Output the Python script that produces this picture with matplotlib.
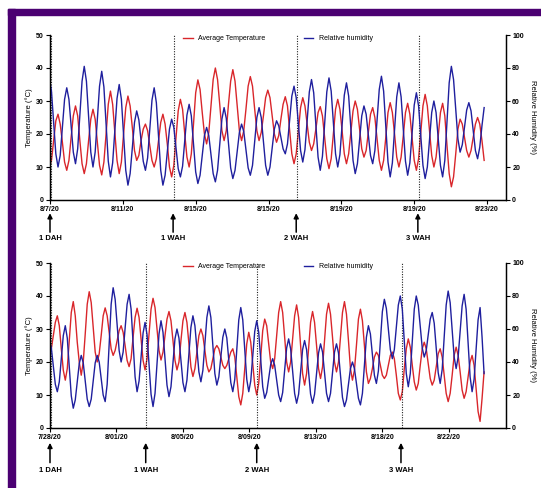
import numpy as np
import matplotlib
matplotlib.use("Agg")
import matplotlib.pyplot as plt
from matplotlib.lines import Line2D
from matplotlib.patches import Rectangle

plt.rcParams['font.family'] = ['Liberation Sans', 'DejaVu Sans']
plt.rcParams['font.weight'] = 'bold'

# logger readings every 3 h, first one at -1 h; one row per day
step_h = 3

# --- top panel (August) ---
top_temp = [10, 12, 18, 24, 26, 23, 17.5, 11.5,
            9, 12, 19, 25.5, 28.5, 25.5, 18, 11,
            8, 11, 18, 24.5, 27.5, 24.5, 17.5, 10.5,
            7.6, 11.5, 20, 29, 33, 29, 20.5, 12,
            8, 11.5, 20, 28, 31.5, 28.5, 22, 15,
            12, 13.5, 18, 21.5, 23, 21, 16.5, 12,
            10, 12.5, 18, 23.5, 26, 23, 17, 10,
            7, 10.5, 19, 27, 30.5, 27.5, 20, 13,
            10, 14, 23, 32.5, 36.4, 33.5, 26.5, 20,
            17, 20.5, 28.5, 36.5, 40, 36.5, 29, 21,
            18, 21, 29, 36, 39.5, 36, 28.5, 21,
            18, 21, 27.5, 34.5, 37.4, 34.5, 27.5, 21,
            18, 20.5, 25.5, 31, 33.3, 31, 25.5, 20,
            17.5, 19.5, 24.5, 29, 31.3, 28.5, 21, 14,
            11, 14, 21, 28, 31, 28.5, 23, 17.5,
            15, 17, 21.5, 26.5, 28.3, 25.5, 19, 12.5,
            9.5, 12.5, 20, 27.5, 30.5, 27.5, 21, 14,
            11, 14, 20.5, 27, 30, 27.5, 21.5, 15.5,
            13, 15, 20.5, 26, 28, 25, 18.5, 12,
            9, 12, 19, 26.5, 29.5, 26.5, 20, 13,
            10, 13, 19.5, 26.5, 29.3, 26, 19, 12,
            9, 12.5, 20.5, 28.5, 32, 28.5, 21, 13.5,
            10, 13, 19.5, 26.5, 29.3, 25.5, 16.5, 8,
            4, 7, 14, 21.5, 24.5, 23, 19, 15,
            13, 15, 19, 23, 25, 23, 18, 12]
top_rh = [74, 66, 47, 28, 20, 27, 44, 61,
          68, 61, 45, 29, 22, 31, 51.5, 72,
          81, 72, 50.5, 29, 20, 29, 49, 69,
          78, 68.5, 46, 23.5, 14, 22.5, 42, 61.5,
          70, 61, 39.5, 18, 9, 16, 31.5, 47,
          54, 48.5, 36, 23.5, 18, 25.5, 43, 60.5,
          68, 59, 38.5, 18, 9, 15, 29, 43,
          49, 44, 31.5, 19, 14, 20.5, 36, 51.5,
          58, 51, 34, 17, 10, 15, 27, 39,
          44, 39, 27.5, 16, 11, 18, 33.5, 49,
          56, 49.5, 34.5, 19.5, 13, 18, 29.5, 41,
          46, 41.5, 30.5, 19.5, 15, 21, 35.5, 50,
          56, 50, 35.5, 21, 15, 20, 31.5, 43,
          48, 45, 38, 31, 28, 34, 48.5, 63,
          69, 62, 46, 30, 23, 30.5, 48, 65.5,
          73, 65, 45.5, 26, 18, 26.5, 46, 65.5,
          74, 66, 47, 28, 20, 27.5, 45.5, 63.5,
          71, 63, 43.5, 24, 16, 22, 36.5, 51,
          57, 52, 39.5, 27, 22, 30, 48.5, 67,
          75, 66, 44.5, 23, 14, 22.5, 42.5, 62.5,
          71, 62.5, 43, 23.5, 15, 22.5, 40, 57.5,
          65, 57, 39, 21, 13, 20, 36.5, 53,
          60, 53, 37, 21, 14, 24, 47.5, 71,
          81, 73, 55, 37, 29, 33.5, 44, 54.5,
          59, 54, 42, 30, 25, 32, 45, 56]
top_ticklabels = ['8/7/20', '8/11/20', '8/15/20', '8/15/20', '8/19/20', '8/19/20', '8/23/20']
top_marks = [0, 169, 338, 505]
top_xmax = 626

# --- bottom panel (July/August) ---
bot_temp = [22, 24, 28, 32, 34, 31, 24, 17.5,
            14.5, 18, 26.5, 35, 38.3, 34, 26, 20,
            16, 20, 28.5, 37.5, 41.3, 38, 30.5, 23,
            20, 22.5, 28, 34, 36.4, 34, 29, 24,
            22, 23.5, 26.5, 29.5, 31, 29, 25, 20.5,
            18.6, 21, 27.5, 33.5, 36.3, 33.5, 27, 20.5,
            17.6, 21, 28.5, 36, 39.3, 36.5, 30, 23.5,
            20.6, 23, 28, 33, 35.3, 32.5, 26.5, 20.5,
            17.6, 20, 26.5, 32.5, 35, 32, 25.5, 18.5,
            15.6, 18, 23, 28, 30, 28, 23.5, 19,
            17, 18, 21, 24, 25, 24, 21.5, 19,
            18, 19, 21, 23, 24, 21.5, 15.5, 9.5,
            7, 10.5, 18, 25.5, 29, 26, 19.5, 13,
            10, 13.5, 21.5, 29.5, 33, 31, 25.5, 20,
            18, 21, 28, 35, 38.3, 35, 27.5, 20,
            17, 20, 27, 34, 37.3, 33.5, 25, 16.5,
            13, 16.5, 24, 32, 35.3, 32, 25, 18,
            15, 18.5, 26.5, 34.5, 37.8, 34.5, 27.5, 20,
            17, 20, 27.5, 35, 38.3, 34.5, 26.5, 18,
            14.5, 17.5, 25, 33, 36, 32.5, 25, 17,
            13.5, 15, 18, 21.5, 23, 22, 19, 16,
            15, 16, 19, 22, 23, 21, 16, 10.5,
            8.5, 11, 18, 24, 27, 24.5, 19, 14,
            11.5, 13.5, 19, 24, 26, 24, 19.5, 15,
            13, 14.5, 18.5, 22.5, 24, 21.5, 16, 10.5,
            8, 10.5, 16, 22, 24.5, 22, 17, 11.5,
            9, 11, 15.5, 20, 22, 19, 12, 5,
            2, 9, 17]
bot_rh = [53, 48.5, 37.5, 26.5, 22, 28, 42, 56,
          62, 54.5, 37, 19.5, 12, 17, 28, 39,
          44, 39.5, 28.5, 17.5, 13, 17.5, 28.5, 39.5,
          44, 40, 30, 20, 16, 26.5, 50.5, 75,
          85, 78, 62.5, 47, 40, 46, 60.5, 75,
          81, 72, 51.5, 31, 22, 28.5, 43, 57.5,
          64, 56.5, 38.5, 20.5, 13, 21, 39, 57,
          65, 58, 42, 26, 19, 25, 39.5, 54,
          60, 54.5, 41, 27.5, 22, 29, 45, 61,
          68, 62, 48, 34, 28, 35, 51, 67,
          74, 67, 50, 33, 26, 31, 43, 55,
          60, 54.5, 41, 27.5, 22, 29.5, 47.5, 65.5,
          73, 65.5, 47.5, 29.5, 22, 28.5, 43.5, 58.5,
          65, 58, 41.5, 25, 18, 21.5, 30, 38.5,
          42, 38, 29, 20, 16, 21.5, 35, 48.5,
          54, 48, 34.5, 21, 15, 20.5, 34, 47.5,
          53, 47.5, 34, 20.5, 15, 20.5, 33, 45.5,
          51, 46, 33.5, 21, 16, 21, 33.5, 46,
          51, 45.5, 32, 18.5, 13, 17, 26.5, 36,
          40, 36, 27, 18, 14, 21, 38, 55,
          62, 57, 44.5, 32, 27, 34.5, 52.5, 70.5,
          78, 72.5, 60, 47.5, 42, 47.5, 61, 74.5,
          80, 72, 52.5, 33, 25, 33, 52.5, 72,
          80, 74.5, 61.5, 48.5, 43, 47, 56.5, 66,
          70, 63.5, 48.5, 33.5, 27, 35.5, 55, 74.5,
          83, 76, 59.5, 43, 36, 43, 58.5, 74,
          81, 72, 51.5, 31, 22, 29.5, 47.5, 65.5,
          73, 55, 33]
bot_ticklabels = ['7/28/20', '8/01/20', '8/05/20', '8/09/20', '8/13/20', '8/18/20', '8/22/20']
bot_marks = [0, 144, 311, 528]
bot_xmax = 686

mark_names = ['1 DAH', '1 WAH', '2 WAH', '3 WAH']
red = '#d9262b'
blue = '#1f1f9e'


def panel(rect, temp, rh, ticklabels, marks, xmax, arrow_y, label_y):
    ax = fig.add_axes(rect)
    ax2 = ax.twinx()
    hours = -1 + step_h * np.arange(len(temp))
    ax.plot(hours, temp, color=red, lw=1.0)
    ax2.plot(hours, rh, color=blue, lw=1.0)

    ax.set_xlim(0, xmax)
    ax.set_ylim(0, 50)
    ax2.set_ylim(0, 100)
    ax.set_yticks(range(0, 51, 10))
    ax2.set_yticks(range(0, 101, 20))
    ax.set_xticks(range(0, 601, 100))
    ax.set_xticklabels(ticklabels)

    for a in (ax, ax2):
        a.spines['top'].set_visible(False)
        for s in ('left', 'right', 'bottom'):
            a.spines[s].set_linewidth(0.9)
        a.tick_params(direction='out', length=3, width=0.8, labelsize=5, pad=1.5)
    ax.set_ylabel('Temperature (°C)', fontsize=5.5, labelpad=2)
    ax2.set_ylabel('Relative Humidity (%)', fontsize=5.5, rotation=270, labelpad=9)

    trans = ax.get_xaxis_transform()
    for h, name in zip(marks, mark_names):
        ax.axvline(h + 1, color='#222222', lw=0.8, ls=(0, (1, 1.3)))
        ax.annotate('', xy=(h, arrow_y[0]), xytext=(h, arrow_y[1]), xycoords=trans,
                    textcoords=trans, annotation_clip=False,
                    arrowprops=dict(arrowstyle='-|>', color='black', lw=1.1,
                                    mutation_scale=7, shrinkA=0, shrinkB=0))
        ax.text(h, label_y, name, transform=trans, ha='center', va='top',
                fontsize=5.5, fontweight='bold')

    handles = [Line2D([], [], color=red, lw=1), Line2D([], [], color=blue, lw=1)]
    ax2.legend(handles, ['Average Temperature', 'Relative humidity'], ncol=2,
               loc='upper center', bbox_to_anchor=(0.5, 1.035), frameon=False,
               handlelength=1.4, handletextpad=0.8, columnspacing=5.5,
               prop={'size': 5, 'weight': 'normal'})
    return ax


fig = plt.figure(figsize=(5.41, 4.88), dpi=100)

# frame strips along the top and left edge
fig.patches.append(Rectangle((8 / 541, 473 / 488), 1, 6 / 488, transform=fig.transFigure,
                             color='#4b0072', zorder=0))
fig.patches.append(Rectangle((8 / 541, 0), 7 / 541, 479 / 488, transform=fig.transFigure,
                             color='#4b0072', zorder=0))

panel([50 / 541, 288 / 488, 456 / 541, 165 / 488], top_temp, top_rh, top_ticklabels,
      top_marks, top_xmax, (-0.08, -0.195), -0.215)
panel([50 / 541, 60 / 488, 456 / 541, 165 / 488], bot_temp, bot_rh, bot_ticklabels,
      bot_marks, bot_xmax, (-0.09, -0.21), -0.235)

fig.savefig('out.png', dpi=100)
